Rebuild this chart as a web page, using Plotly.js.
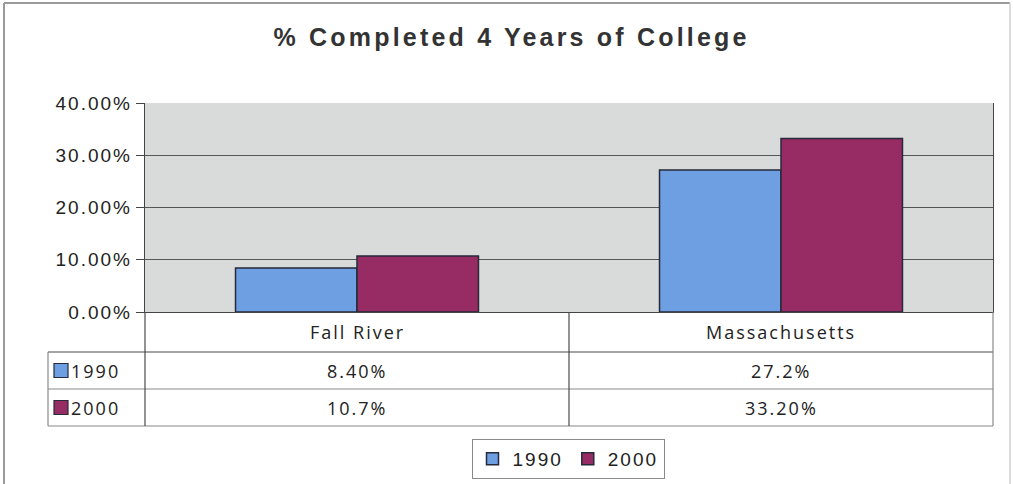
<!DOCTYPE html>
<html>
<head>
<meta charset="utf-8">
<script src="https://cdn.plot.ly/plotly-3.0.1.min.js"></script>
<style>
body{margin:0;padding:0;background:#fff;}
#chart{width:1013px;height:484px;}
.gtitle{letter-spacing:3.2px;}
.ytick text{letter-spacing:2px;}
.annotation-text{letter-spacing:2px;}
.legendtext{letter-spacing:2px;}
</style>
</head>
<body>
<div id="chart"></div>
<script>
// ---- data ----
const categories = ['Fall River', 'Massachusetts'];
const seriesNames = ['1990', '2000'];
const values1990 = [0.084, 0.272];
const values2000 = [0.107, 0.332];
const tableText1990 = ['8.40%', '27.2%'];
const tableText2000 = ['10.7%', '33.20%'];
const yTickVals = [0, 0.1, 0.2, 0.3, 0.4];
const titleText = '% Completed 4 Years of College';

// ---- style ----
const colors = ['#6f9fe3', '#962c63'];
const W = 1013, H = 484;
const L = 145, R = 993, T = 103, B = 312;
const px = x => (x - L) / (R - L);
const py = y => (B - y) / (B - T);

const traces = [
  {type:'bar', name: seriesNames[0], x: categories, y: values1990,
   marker:{color: colors[0], line:{color:'#262a3a', width:1.5}}, hoverinfo:'none'},
  {type:'bar', name: seriesNames[1], x: categories, y: values2000,
   marker:{color: colors[1], line:{color:'#262a3a', width:1.5}}, hoverinfo:'none'}
];

const lineDark = {color:'#4a4a4a', width:1.2};
const lineGray = {color:'#8a8a8a', width:1.2};
const shapes = [];
function hline(y, x0, x1, line){ shapes.push({type:'line', xref:'paper', yref:'paper', x0:px(x0), x1:px(x1), y0:py(y), y1:py(y), line}); }
function vline(x, y0, y1, line){ shapes.push({type:'line', xref:'paper', yref:'paper', x0:px(x), x1:px(x), y0:py(y0), y1:py(y1), line}); }

// table grid
const rowBot = 426, tableLeft = 48;
hline(352, tableLeft, R, lineDark);
hline(389, tableLeft, R, lineGray);
hline(426, tableLeft, R, lineGray);
vline(L, 312, rowBot, lineDark);
vline((L + R) / 2, 312, rowBot, lineDark);
vline(R, 312, rowBot, lineGray);
vline(tableLeft, 352, rowBot, lineGray);

// legend keys inside table
const rowCenters = [370.5, 407.5];
seriesNames.forEach((n, i) => {
  shapes.push({type:'rect', xref:'paper', yref:'paper',
    x0:px(54), x1:px(68), y0:py(rowCenters[i] - 7), y1:py(rowCenters[i] + 7),
    fillcolor: colors[i], line:{color:'#262a3a', width:1.2}});
});

// outer frame (left, top, right edges only)
vline(4, 3, 484, {color:'#9a9a9a', width:2});
hline(3, 4, 1010, {color:'#9a9a9a', width:2});
vline(1010, 3, 484, {color:'#d0d0d0', width:1.5});

const tableFont = {family:'Open Sans, Liberation Sans, sans-serif', size:18, color:'#222'};
const annotations = [];
categories.forEach((c, i) => {
  annotations.push({x:c, xref:'x', yref:'paper', y:py(332), text:c, showarrow:false, font:tableFont, yanchor:'middle'});
  annotations.push({x:c, xref:'x', yref:'paper', y:py(rowCenters[0]), text:tableText1990[i], showarrow:false, font:tableFont, yanchor:'middle'});
  annotations.push({x:c, xref:'x', yref:'paper', y:py(rowCenters[1]), text:tableText2000[i], showarrow:false, font:tableFont, yanchor:'middle'});
});
seriesNames.forEach((n, i) => {
  annotations.push({xref:'paper', yref:'paper', x:px(69), y:py(rowCenters[i]), text:n, showarrow:false,
    font:{family:'Open Sans, Liberation Sans, sans-serif', size:18, color:'#222'}, xanchor:'left', yanchor:'middle'});
});

const layout = {
  width: W, height: H,
  margin:{l:L, r:W - R, t:T, b:H - B, pad:0, autoexpand:false},
  paper_bgcolor:'#ffffff',
  plot_bgcolor:'#d9dbda',
  font:{family:'Liberation Sans, Arial, sans-serif', color:'#222'},
  title:{text:'<b>' + titleText + '</b>', x:0.505, xanchor:'center', y:1 - 37/H, yanchor:'middle',
    font:{family:'Liberation Sans, Arial, sans-serif', size:25, color:'#333'}},
  barmode:'group', bargap:0.427, bargroupgap:0,
  showlegend:true,
  legend:{orientation:'h', x:px(568), xanchor:'center', y:py(479), yanchor:'bottom',
    bordercolor:'#8a8a8a', borderwidth:1, bgcolor:'#fff',
    font:{family:'Liberation Sans, Arial, sans-serif', size:19, color:'#222'},
    itemwidth:30, traceorder:'normal'},
  xaxis:{type:'category', showticklabels:false, ticks:'', showgrid:false, zeroline:false,
    showline:true, linecolor:'#444', linewidth:1, mirror:false, fixedrange:true, automargin:false},
  yaxis:{range:[0, 0.4], tickvals:yTickVals, tickformat:'.2%', ticks:'outside', ticklen:8, tickcolor:'#444',
    showgrid:true, gridcolor:'#555', gridwidth:1, zeroline:false,
    showline:true, linecolor:'#444', linewidth:1.2, mirror:true, automargin:false,
    tickfont:{family:'Liberation Sans, Arial, sans-serif', size:19, color:'#222'}, fixedrange:true},
  shapes, annotations
};

Plotly.newPlot('chart', traces, layout, {displayModeBar:false, staticPlot:true});
</script>
</body>
</html>
